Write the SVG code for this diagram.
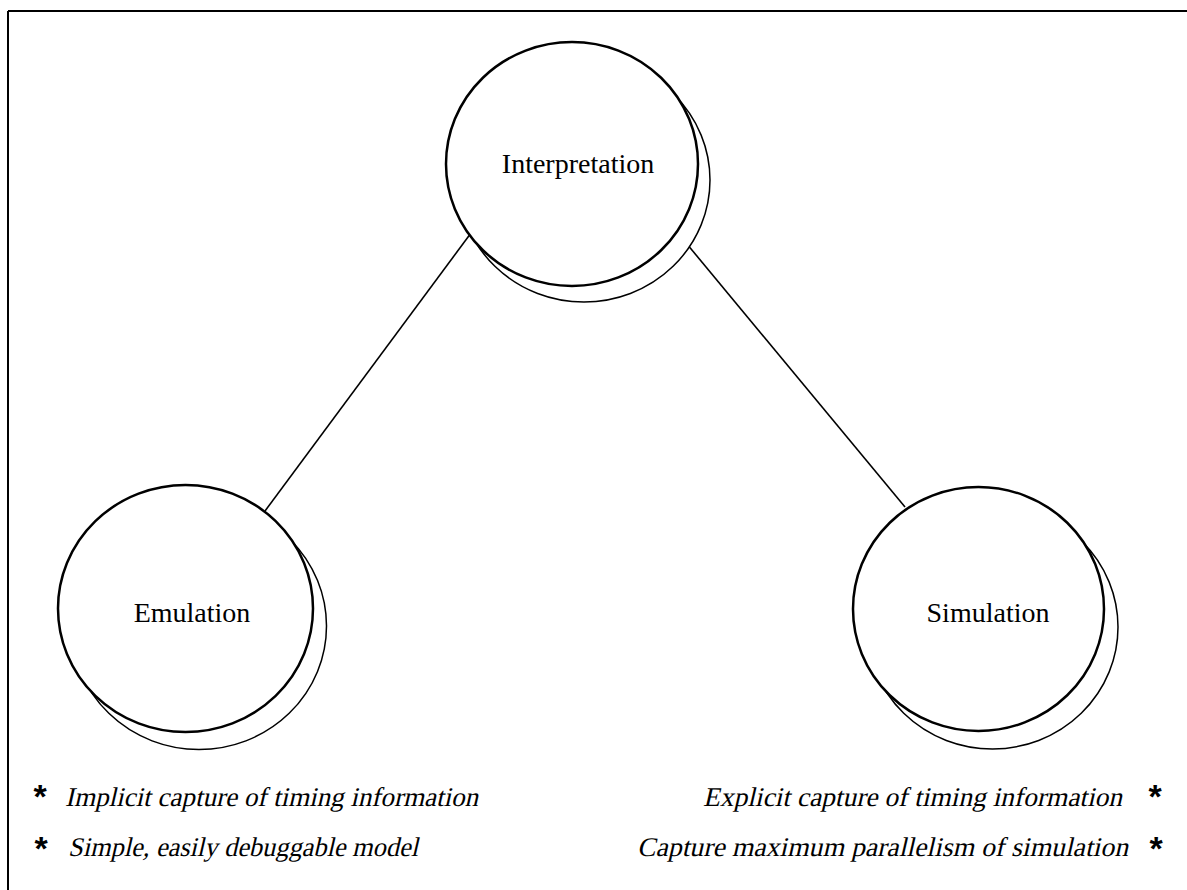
<svg xmlns="http://www.w3.org/2000/svg" width="1187" height="890" viewBox="0 0 1187 890">
<style>
.main{fill:#fff;stroke:#000;stroke-width:2.5}
.shadow{fill:#fff;stroke:#000;stroke-width:1.5}
.label{font-family:"Liberation Serif","Times New Roman",serif;font-size:28px;fill:#000;text-anchor:middle}
.note{font-family:"Liberation Serif","Times New Roman",serif;font-size:27px;fill:#000}
.star{font-family:"Liberation Sans",Arial,sans-serif;font-weight:bold;font-size:34px;fill:#000;text-anchor:middle}
.conn{stroke:#000;stroke-width:1.6;fill:none}
</style>
<rect width="1187" height="890" fill="#fff"/>
<g id="frame" stroke="#000" stroke-width="2" fill="none">
<line x1="8" y1="11" x2="1187" y2="11"/>
<line x1="8" y1="11" x2="8" y2="890"/>
</g>
<g id="connectors">
<line class="conn" x1="471" y1="233" x2="265" y2="511"/>
<line class="conn" x1="677" y1="232" x2="905" y2="507"/>
</g>
<g id="interpretation">
<ellipse class="shadow" cx="584" cy="180" rx="126" ry="122"/>
<ellipse class="main" cx="572" cy="164" rx="126" ry="122"/>
<text class="label" x="578" y="173">Interpretation</text>
</g>
<g id="emulation">
<ellipse class="shadow" cx="199" cy="626" rx="127.5" ry="123.5"/>
<ellipse class="main" cx="185.5" cy="608.5" rx="127.5" ry="123.5"/>
<text class="label" x="192" y="622">Emulation</text>
</g>
<g id="simulation">
<ellipse class="shadow" cx="992.5" cy="627" rx="125.5" ry="122"/>
<ellipse class="main" cx="978.5" cy="609" rx="125.5" ry="122"/>
<text class="label" x="988" y="622">Simulation</text>
</g>
<g id="notes-left">
<text class="star" x="40" y="808">*</text>
<g transform="translate(65,806) skewX(-13)"><text class="note" x="0" y="0" textLength="413" lengthAdjust="spacingAndGlyphs">Implicit capture of timing information</text></g>
<text class="star" x="41" y="860">*</text>
<g transform="translate(68,856) skewX(-13)"><text class="note" x="0" y="0" textLength="350" lengthAdjust="spacingAndGlyphs">Simple, easily debuggable model</text></g>
</g>
<g id="notes-right">
<g transform="translate(1122,806) skewX(-13)"><text class="note" x="-419" y="0" textLength="419" lengthAdjust="spacingAndGlyphs">Explicit capture of timing information</text></g>
<text class="star" x="1155" y="808">*</text>
<g transform="translate(1128,856) skewX(-13)"><text class="note" x="-491" y="0" textLength="491" lengthAdjust="spacingAndGlyphs">Capture maximum parallelism of simulation</text></g>
<text class="star" x="1156" y="860">*</text>
</g>
</svg>
